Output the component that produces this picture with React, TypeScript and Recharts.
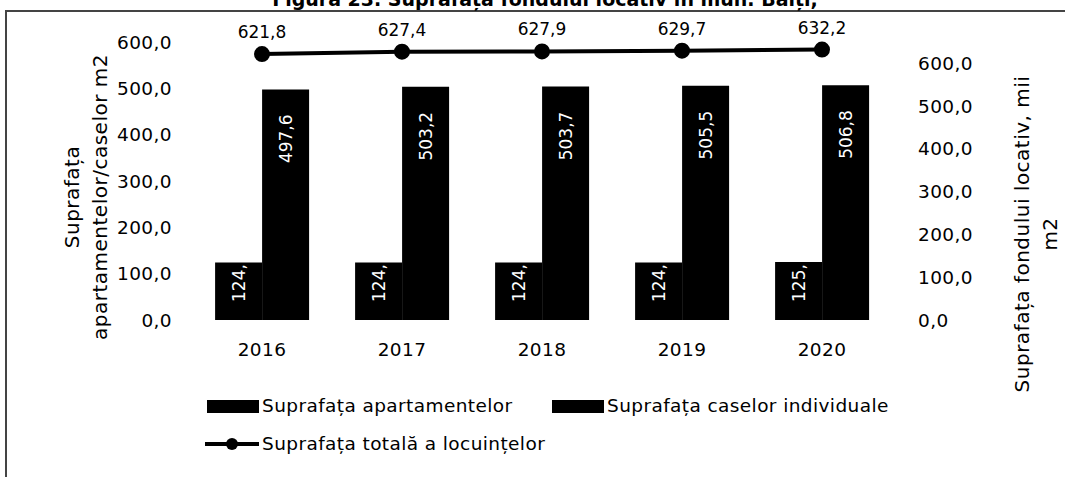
import { ComposedChart, Bar, Line, XAxis, YAxis, LabelList, Legend } from 'recharts';

const years = ['2016', '2017', '2018', '2019', '2020'];
const apartments = [124.2, 124.2, 124.2, 124.2, 125.4];
const houses = [497.6, 503.2, 503.7, 505.5, 506.8];
const totals = [621.8, 627.4, 627.9, 629.7, 632.2];
const leftTicks = [0, 100, 200, 300, 400, 500, 600];
const rightTicks = [0, 100, 200, 300, 400, 500, 600];

const data = years.map((year, i) => ({
    year,
    apartments: apartments[i],
    houses: houses[i],
    total: totals[i],
}));

const FONT = '"DejaVu Sans", sans-serif';
const fmt = (v: number) => v.toFixed(1).replace('.', ',');
const tickStyle = { fill: '#000', fontSize: 18.5, fontFamily: FONT, letterSpacing: 0.4 };

const HouseLabel = (props: any) => {
    const { x, y, width, value } = props;
    const cx = x + width / 2;
    const ty = y + 25;
    return (
        <text x={cx} y={ty} transform={`rotate(-90 ${cx} ${ty})`} textAnchor="end" dominantBaseline="central"
            fill="#fff" fontSize={17} fontFamily={FONT}>
            {fmt(value)}
        </text>
    );
};

const AptLabel = (props: any) => {
    const { x, y, width, height, value } = props;
    const cx = x + width / 2;
    const ty = y + height - 18;
    let s = fmt(value);
    // text is cut when the bar is too short, like in the original
    if (s.length * 10 > height - 20) s = s.slice(0, s.length - 1);
    return (
        <text x={cx} y={ty} transform={`rotate(-90 ${cx} ${ty})`} textAnchor="start" dominantBaseline="central"
            fill="#fff" fontSize={17} fontFamily={FONT}>
            {s}
        </text>
    );
};

const LeftTitle = () => {
    const cy = 197;
    return (
        <g fontFamily={FONT} fontSize={20} letterSpacing={0.5} fill="#000">
            <text x={72} y={cy} transform={`rotate(-90 72 ${cy})`} textAnchor="middle" dominantBaseline="central">Suprafața</text>
            <text x={100} y={cy} transform={`rotate(-90 100 ${cy})`} textAnchor="middle" dominantBaseline="central">apartamentelor/caselor m2</text>
        </g>
    );
};

const RightTitle = () => {
    const cy = 234;
    return (
        <g fontFamily={FONT} fontSize={20} letterSpacing={0.5} fill="#000">
            <text x={1022} y={cy} transform={`rotate(-90 1022 ${cy})`} textAnchor="middle" dominantBaseline="central">Suprafața fondului locativ, mii</text>
            <text x={1050} y={cy} transform={`rotate(-90 1050 ${cy})`} textAnchor="middle" dominantBaseline="central">m2</text>
        </g>
    );
};

const CustomLegend = (props: any) => {
    const payload: any[] = props.payload || [];
    const get = (key: string) => payload.find((p) => p.dataKey === key);
    const item = (entry: any, left: number, top: number) => {
        if (!entry) return null;
        return (
            <div key={entry.dataKey} style={{ position: 'absolute', left, top, display: 'flex', alignItems: 'center', whiteSpace: 'nowrap' }}>
                {entry.type === 'line' ? (
                    <svg width={54} height={16}>
                        <line x1={0} y1={8} x2={54} y2={8} stroke="#000" strokeWidth={4} />
                        <circle cx={27} cy={8} r={6} fill="#000" />
                    </svg>
                ) : (
                    <svg width={52} height={16}>
                        <rect x={0} y={2} width={52} height={13} fill="#000" />
                    </svg>
                )}
                <span style={{ marginLeft: 3, fontSize: 18.5, letterSpacing: 0.4, fontFamily: FONT, color: '#000' }}>{entry.value}</span>
            </div>
        );
    };
    return (
        <div style={{ position: 'relative', width: 1065, height: 70 }}>
            {item(get('apartments'), 207, 0)}
            {item(get('houses'), 552, 0)}
            {item(get('total'), 205, 38)}
        </div>
    );
};

export default function App() {
    return (
        <div style={{ position: 'absolute', left: 0, top: 0, width: 1065, height: 477, background: '#fff', overflow: 'hidden' }}>
            <div style={{ position: 'absolute', left: 5, top: 10, width: 1070, height: 480, borderTop: '2px solid #444', borderLeft: '2px solid #444' }} />
            <svg style={{ position: 'absolute', left: 0, top: 0 }} width={1065} height={12}>
                <text x={545} y={6} textAnchor="middle" fontFamily={FONT} fontSize={19} fontWeight="bold" fill="#000">
                    Figura 23. Suprafața fondului locativ în mun. Bălți,
                </text>
            </svg>
            <ComposedChart
                width={1065}
                height={477}
                data={data}
                margin={{ top: 42, right: 93, bottom: 0, left: 112 }}
                barGap={0}
                barCategoryGap="16.5%"
                style={{ position: 'absolute', left: 0, top: 0 }}
            >
                <XAxis dataKey="year" xAxisId="x" axisLine={false} tickLine={false} height={157} tickMargin={17}
                    tick={tickStyle} />
                <YAxis yAxisId="left" orientation="left" domain={[0, 600]} ticks={leftTicks} width={80}
                    axisLine={false} tickLine={false} tickMargin={14} tickFormatter={fmt}
                    tick={tickStyle} />
                <YAxis yAxisId="right" orientation="right" domain={[0, 650]} ticks={rightTicks} width={80}
                    axisLine={false} tickLine={false} tickMargin={20} tickFormatter={fmt}
                    tick={{ ...tickStyle, textAnchor: 'start' }} />
                <Bar dataKey="apartments" name="Suprafața apartamentelor" xAxisId="x" yAxisId="left" fill="#000"
                    legendType="rect" isAnimationActive={false}>
                    <LabelList dataKey="apartments" content={AptLabel} />
                </Bar>
                <Bar dataKey="houses" name="Suprafața caselor individuale" xAxisId="x" yAxisId="left" fill="#000"
                    legendType="rect" isAnimationActive={false}>
                    <LabelList dataKey="houses" content={HouseLabel} />
                </Bar>
                <Line dataKey="total" name="Suprafața totală a locuințelor" xAxisId="x" yAxisId="right" stroke="#000"
                    strokeWidth={4} dot={{ r: 6, fill: '#000', stroke: '#000' }} legendType="line" isAnimationActive={false}>
                    <LabelList dataKey="total" position="top" offset={16} formatter={(v: any) => fmt(Number(v))}
                        style={{ fill: '#000', fontSize: 17, fontFamily: FONT }} />
                </Line>
                <Legend layout="horizontal" verticalAlign="middle" align="center" content={CustomLegend}
                    wrapperStyle={{ left: 0, top: 395, width: 1065 }} />
                <g>
                    <LeftTitle />
                    <RightTitle />
                </g>
            </ComposedChart>
        </div>
    );
}
